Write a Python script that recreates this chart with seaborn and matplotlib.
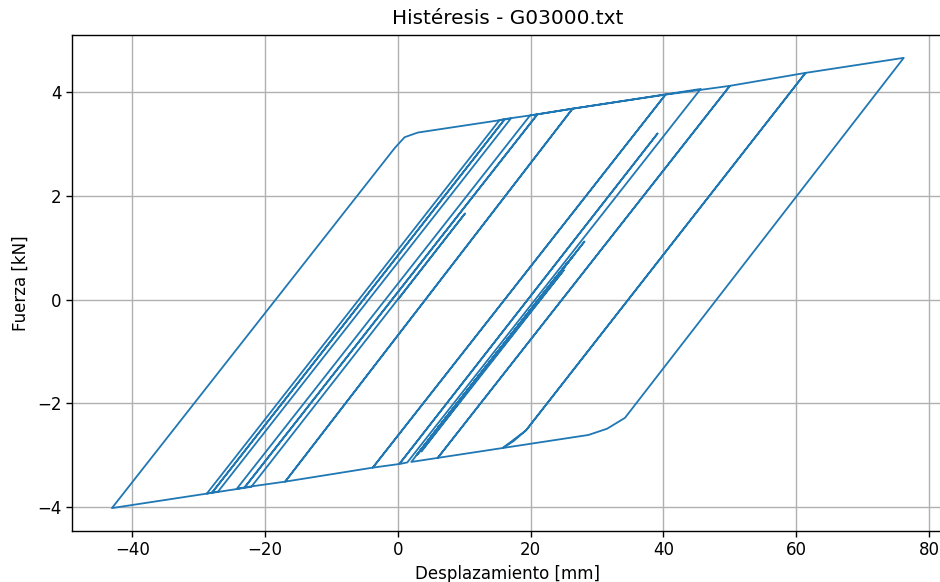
import numpy as np
import pandas as pd
import matplotlib
matplotlib.use("Agg")
import matplotlib.pyplot as plt
import seaborn as sns

# turning points of the hysteresis path (mm, kN)
desplazamiento = [
    0.0, 10.1, -22.1, -43.1, -0.5, 1.0, 3.0, 17.0, -27.1, -28.8,
    15.3, 16.1, -28.0, 16.1, 21.0, -23.1, -24.3, 19.9, 26.3, -17.0,
    -23.1, 21.0, 26.3, 40.3, -3.8, -17.0, 26.3, 45.6, 1.4, 0.2,
    39.1, 0.2, -3.8, 40.3, 50.0, 6.0, 50.0, 61.4, 19.3, 17.4,
    15.8, 19.3, 61.4, 76.2, 34.2, 31.5, 28.7, 2.0, 28.1, 3.0,
    25.4, 4.5, 26.5, 2.8, 25.0, 3.5, 24.0, 6.0, 22.0, 8.0, 20.0,
]
fuerza = [
    0.00, 1.66, -3.61, -4.02, 2.92, 3.13, 3.22, 3.49, -3.70, -3.74,
    3.46, 3.48, -3.72, 3.48, 3.57, -3.62, -3.65, 3.55, 3.68, -3.51,
    -3.62, 3.57, 3.68, 3.95, -3.24, -3.51, 3.68, 4.06, -3.14, -3.17,
    3.20, -3.17, -3.24, 3.95, 4.12, -3.05, 4.12, 4.37, -2.52, -2.73,
    -2.86, -2.52, 4.37, 4.66, -2.28, -2.49, -2.61, -3.13, 1.12, -2.97,
    0.69, -2.72, 0.86, -3.00, 0.57, -2.93, 0.46, -2.48, 0.13, -2.15, -0.20,
]

df = pd.DataFrame({"Desplazamiento": desplazamiento, "Fuerza": fuerza})

sns.set_style("white", rc={"text.color": "black", "axes.labelcolor": "black",
                           "xtick.color": "black", "ytick.color": "black"})
plt.rcParams["font.family"] = ["DejaVu Sans"]

fig = plt.figure(figsize=(9.4, 5.82), dpi=100)
ax = fig.add_axes([0.0769, 0.0883, 0.9267, 0.851])

sns.lineplot(data=df, x="Desplazamiento", y="Fuerza", sort=False,
             estimator=None, color="#1f77b4", linewidth=1.3, ax=ax)

ax.set_xlim(-49.07, 82.17)
ax.set_ylim(-4.454, 5.094)
ax.set_xticks([-40, -20, 0, 20, 40, 60, 80])
ax.set_yticks([-4, -2, 0, 2, 4])
ax.grid(True, color="#b0b0b0", linewidth=1.0)
ax.tick_params(labelsize=12, length=4.2, width=1.0, direction="out",
               bottom=True, left=True)
for s in ax.spines.values():
    s.set_color("black")
    s.set_linewidth(1.0)

ax.set_title("Histéresis - G03000.txt", fontsize=14.4, pad=8)
ax.set_xlabel("Desplazamiento [mm]", fontsize=12, labelpad=4)
ax.set_ylabel("Fuerza [kN]", fontsize=12, labelpad=5)

fig.savefig("out.png", dpi=100)
